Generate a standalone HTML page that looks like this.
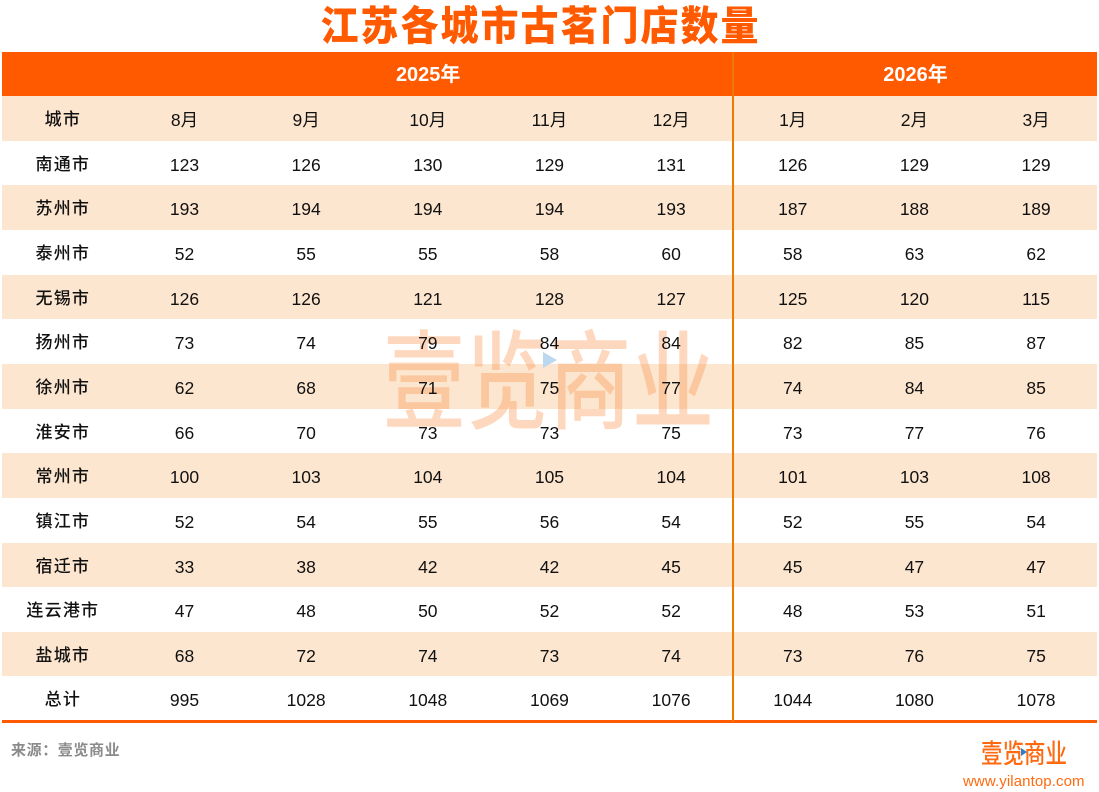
<!DOCTYPE html>
<html>
<head>
<meta charset="utf-8">
<style>
  html,body{margin:0;padding:0;background:#fff;}
  #c{position:relative;width:1099px;height:792px;overflow:hidden;background:#fff;
     font-family:"Liberation Sans","Noto Sans CJK SC",sans-serif;color:#111;}
  .title{position:absolute;left:-9px;width:1099px;top:0;height:46px;line-height:46px;text-align:center;
     font-family:"Noto Sans CJK SC","WenQuanYi Zen Hei",sans-serif;font-weight:900;font-size:38px;letter-spacing:2px;color:#FF5A00;
     transform:scaleY(1.06);transform-origin:50% 40%;}
  .band{position:absolute;left:2px;width:1095px;top:52px;height:44px;background:#FF5A00;}
  .yr{position:absolute;top:52px;height:44px;line-height:47px;text-align:center;color:#fff;font-weight:bold;font-size:20px;
     font-family:"Liberation Sans","Noto Sans CJK SC",sans-serif;z-index:2;}
  .row{position:absolute;left:2px;width:1095px;height:44.65px;display:flex;}
  .row.p{background:#FDE6CF;}
  .cell{position:relative;z-index:2;width:121.67px;flex:none;text-align:center;line-height:48px;font-size:17.5px;}
  .cn{font-family:"Liberation Sans","Noto Sans CJK SC",sans-serif;font-weight:500;letter-spacing:1.2px;font-size:17px;}
  .div{position:absolute;left:732px;top:52px;width:2px;height:670px;background:#EE7A00;z-index:3;}
  .bot{position:absolute;left:2px;width:1095px;top:720px;height:2.5px;background:#FF5A00;}
  .wm{position:absolute;left:383px;top:329px;width:335px;height:130px;z-index:1;
     font-family:"Noto Sans CJK SC","WenQuanYi Zen Hei",sans-serif;font-weight:500;font-size:82px;line-height:100px;
     color:rgba(250,135,55,0.32);transform:scaleY(1.32);transform-origin:50% 50%;white-space:nowrap;letter-spacing:1px;}
  .tri{position:absolute;width:0;height:0;border-top:8px solid transparent;border-bottom:8px solid transparent;border-left:14px solid #BCD8EE;z-index:1;}
  .src{position:absolute;left:11px;top:739px;font-size:15px;font-weight:bold;color:#8a8a8a;letter-spacing:0.6px;
     font-family:"Liberation Sans","Noto Sans CJK SC",sans-serif;}
  .logo{position:absolute;left:981px;top:740px;font-family:"Noto Sans CJK SC",sans-serif;font-weight:500;font-size:21.5px;line-height:26px;
     color:#FF6A10;transform:scaleY(1.25);transform-origin:0 50%;white-space:nowrap;}
  .url{position:absolute;left:963px;top:773px;font-size:15px;line-height:17px;color:#FF6A10;letter-spacing:0.1px;}
</style>
</head>
<body>
<div id="c">
  <div class="title">江苏各城市古茗门店数量</div>
  <div class="band"></div>
  <div class="yr" style="left:123.7px;width:609px;">2025年</div>
  <div class="yr" style="left:734px;width:363px;">2026年</div>

  <div class="row p" style="top:96px;"><div class="cell cn">城市</div><div class="cell">8月</div><div class="cell">9月</div><div class="cell">10月</div><div class="cell">11月</div><div class="cell">12月</div><div class="cell">1月</div><div class="cell">2月</div><div class="cell">3月</div></div>
  <div class="row" style="top:140.65px;"><div class="cell cn">南通市</div><div class="cell">123</div><div class="cell">126</div><div class="cell">130</div><div class="cell">129</div><div class="cell">131</div><div class="cell">126</div><div class="cell">129</div><div class="cell">129</div></div>
  <div class="row p" style="top:185.3px;"><div class="cell cn">苏州市</div><div class="cell">193</div><div class="cell">194</div><div class="cell">194</div><div class="cell">194</div><div class="cell">193</div><div class="cell">187</div><div class="cell">188</div><div class="cell">189</div></div>
  <div class="row" style="top:229.95px;"><div class="cell cn">泰州市</div><div class="cell">52</div><div class="cell">55</div><div class="cell">55</div><div class="cell">58</div><div class="cell">60</div><div class="cell">58</div><div class="cell">63</div><div class="cell">62</div></div>
  <div class="row p" style="top:274.6px;"><div class="cell cn">无锡市</div><div class="cell">126</div><div class="cell">126</div><div class="cell">121</div><div class="cell">128</div><div class="cell">127</div><div class="cell">125</div><div class="cell">120</div><div class="cell">115</div></div>
  <div class="row" style="top:319.25px;"><div class="cell cn">扬州市</div><div class="cell">73</div><div class="cell">74</div><div class="cell">79</div><div class="cell">84</div><div class="cell">84</div><div class="cell">82</div><div class="cell">85</div><div class="cell">87</div></div>
  <div class="row p" style="top:363.9px;"><div class="cell cn">徐州市</div><div class="cell">62</div><div class="cell">68</div><div class="cell">71</div><div class="cell">75</div><div class="cell">77</div><div class="cell">74</div><div class="cell">84</div><div class="cell">85</div></div>
  <div class="row" style="top:408.55px;"><div class="cell cn">淮安市</div><div class="cell">66</div><div class="cell">70</div><div class="cell">73</div><div class="cell">73</div><div class="cell">75</div><div class="cell">73</div><div class="cell">77</div><div class="cell">76</div></div>
  <div class="row p" style="top:453.2px;"><div class="cell cn">常州市</div><div class="cell">100</div><div class="cell">103</div><div class="cell">104</div><div class="cell">105</div><div class="cell">104</div><div class="cell">101</div><div class="cell">103</div><div class="cell">108</div></div>
  <div class="row" style="top:497.85px;"><div class="cell cn">镇江市</div><div class="cell">52</div><div class="cell">54</div><div class="cell">55</div><div class="cell">56</div><div class="cell">54</div><div class="cell">52</div><div class="cell">55</div><div class="cell">54</div></div>
  <div class="row p" style="top:542.5px;"><div class="cell cn">宿迁市</div><div class="cell">33</div><div class="cell">38</div><div class="cell">42</div><div class="cell">42</div><div class="cell">45</div><div class="cell">45</div><div class="cell">47</div><div class="cell">47</div></div>
  <div class="row" style="top:587.15px;"><div class="cell cn">连云港市</div><div class="cell">47</div><div class="cell">48</div><div class="cell">50</div><div class="cell">52</div><div class="cell">52</div><div class="cell">48</div><div class="cell">53</div><div class="cell">51</div></div>
  <div class="row p" style="top:631.8px;"><div class="cell cn">盐城市</div><div class="cell">68</div><div class="cell">72</div><div class="cell">74</div><div class="cell">73</div><div class="cell">74</div><div class="cell">73</div><div class="cell">76</div><div class="cell">75</div></div>
  <div class="row" style="top:676.45px;"><div class="cell cn">总计</div><div class="cell">995</div><div class="cell">1028</div><div class="cell">1048</div><div class="cell">1069</div><div class="cell">1076</div><div class="cell">1044</div><div class="cell">1080</div><div class="cell">1078</div></div>

  <div class="wm">壹览商业</div>
  <div class="tri" style="left:543px;top:352px;"></div>

  <div class="div"></div>
  <div class="bot"></div>

  <div class="src">来源：壹览商业</div>
  <div class="logo">壹览商业</div>
  <div class="tri" style="left:1021px;top:748px;border-top-width:4px;border-bottom-width:4px;border-left-width:6px;border-left-color:#2E7DC4;z-index:3;"></div>
  <div class="url">www.yilantop.com</div>
</div>
</body>
</html>
